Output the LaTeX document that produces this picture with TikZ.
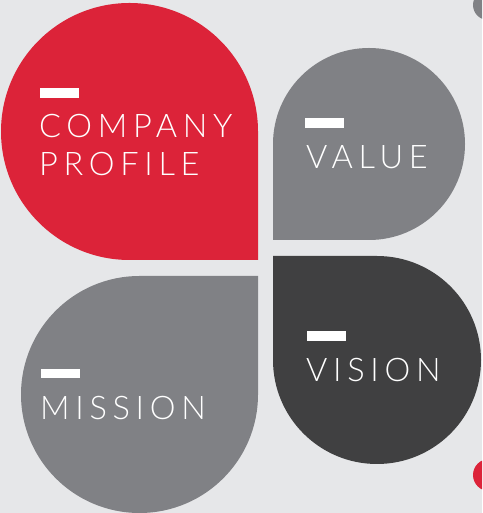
\documentclass[tikz,border=0pt]{standalone}
\usepackage{fontspec}
\setmainfont{Lato Light}[LetterSpace=17.5]

\definecolor{bgray}{HTML}{E6E7E9}
\definecolor{cred}{HTML}{DC2339}
\definecolor{cgray}{HTML}{808185}
\definecolor{cdark}{HTML}{404041}

\begin{document}
\begin{tikzpicture}[x=1pt,y=1pt,
  word/.style={anchor=base west,inner sep=0pt,text=white,font=\fontsize{32.5}{38}\selectfont}]
\fill[bgray] (0,0) rectangle (482,513);
\useasboundingbox (0,0) rectangle (482,513);
\begin{scope}
\clip (0,0) rectangle (482,513);
\fill[cgray] (488,508) circle[radius=15];
\fill[cred] (489,38) circle[radius=16];
\end{scope}
% the four petals
\fill[cred] (258,381.5) -- (258,253) -- (129.5,253) arc[start angle=270,end angle=0,radius=128.5] -- cycle;
\fill[cgray] (273,369) -- (273,273) -- (369,273) arc[start angle=-90,end angle=180,radius=96] -- cycle;
\fill[cdark] (273,153) -- (273,257) -- (377,257) arc[start angle=90,end angle=-180,radius=104] -- cycle;
\fill[cgray] (258,118.5) -- (258,237) -- (139.5,237) arc[start angle=90,end angle=360,radius=118.5] -- cycle;
% bars
\fill[white] (40,415) rectangle (79,425);
\fill[white] (305,385) rectangle (344,395);
\fill[white] (307,172) rectangle (346,182);
\fill[white] (41,135) rectangle (80,144);
% labels
\node[word] (company) at (39,375) {COMPANY};
\node[word] (profile) at (39,337) {PROFILE};
\node[word] (value) at (306,344) {VALUE};
\node[word] (vision) at (306,131) {VISION};
\node[word] (mission) at (40,93) {MISSION};
\end{tikzpicture}
\end{document}
